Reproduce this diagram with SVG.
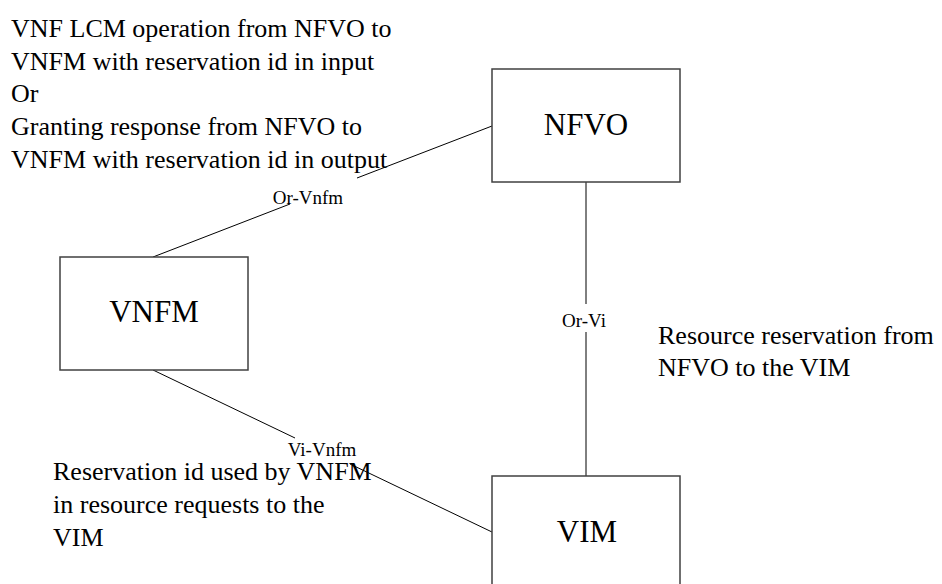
<svg xmlns="http://www.w3.org/2000/svg" width="942" height="584" viewBox="0 0 942 584">
<style>
.box{fill:#fff;stroke:#404040;stroke-width:1.5}
.conn{stroke:#000;stroke-width:1;fill:none}
text{font-family:'Liberation Serif','Times New Roman',Times,'DejaVu Serif',serif;fill:#000}
.node{font-size:31px;text-anchor:middle}
.lbl{font-size:19px;text-anchor:middle}
.note{font-size:26px}
</style>
<rect width="942" height="584" fill="#fff"/>
<g id="connectors" font-family="Liberation Serif, DejaVu Serif, serif">
<line class="conn" x1="492" y1="126" x2="357" y2="178"/>
<line class="conn" x1="290" y1="204" x2="153" y2="257"/>
<line class="conn" x1="586" y1="182" x2="586" y2="304"/>
<line class="conn" x1="586" y1="332" x2="586" y2="476"/>
<line class="conn" x1="153" y1="370" x2="295" y2="438"/>
<line class="conn" x1="350" y1="464" x2="492" y2="532"/>
<text class="lbl" x="308" y="204">Or-Vnfm</text>
<text class="lbl" x="584" y="327">Or-Vi</text>
<text class="lbl" x="322" y="456">Vi-Vnfm</text>
</g>
<g id="nfvo" font-family="Liberation Serif, DejaVu Serif, serif">
<rect class="box" x="492" y="69" width="188" height="113"/>
<text class="node" x="586" y="135">NFVO</text>
</g>
<g id="vnfm" font-family="Liberation Serif, DejaVu Serif, serif">
<rect class="box" x="60" y="257" width="188" height="113"/>
<text class="node" x="154" y="322">VNFM</text>
</g>
<g id="vim" font-family="Liberation Serif, DejaVu Serif, serif">
<rect class="box" x="492" y="476" width="188" height="113"/>
<text class="node" x="587" y="542">VIM</text>
</g>
<g id="notes" font-family="Liberation Serif, DejaVu Serif, serif">
<text class="note" x="11" y="37">VNF LCM operation from NFVO to</text>
<text class="note" x="11" y="70">VNFM with reservation id in input</text>
<text class="note" x="11" y="102">Or</text>
<text class="note" x="11" y="135">Granting response from NFVO to</text>
<text class="note" x="11" y="168">VNFM with reservation id in output</text>
<text class="note" x="658" y="344">Resource reservation from</text>
<text class="note" x="658" y="376">NFVO to the VIM</text>
<text class="note" x="53" y="480">Reservation id used by VNFM</text>
<text class="note" x="53" y="513">in resource requests to the</text>
<text class="note" x="53" y="546">VIM</text>
</g>
</svg>
